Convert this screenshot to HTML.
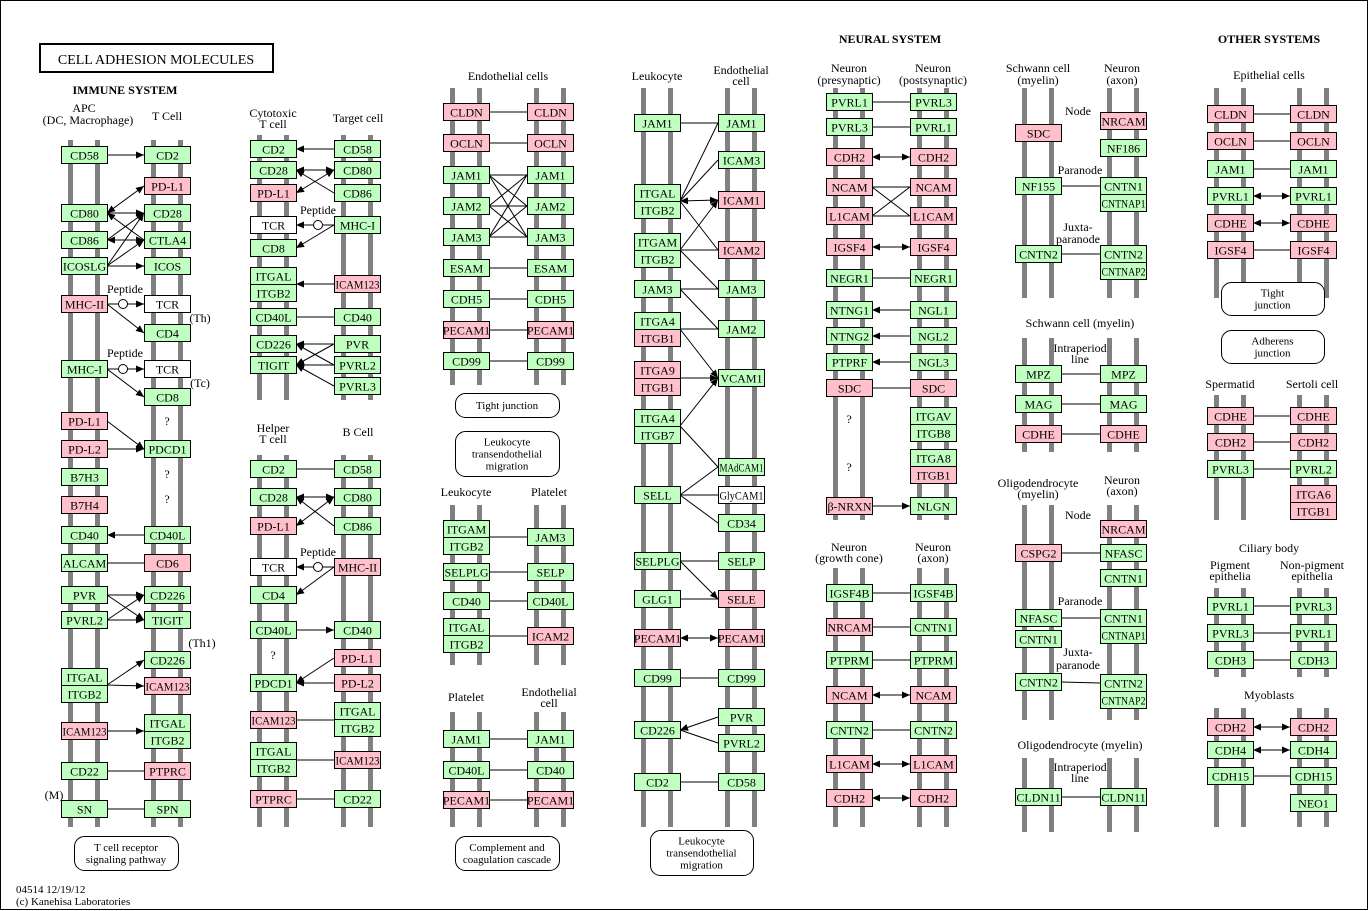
<!DOCTYPE html>
<html><head><meta charset="utf-8"><style>
html,body{margin:0;padding:0;background:#fff}
svg{display:block}
text{font-family:"Liberation Serif",serif;font-size:12px;fill:#000}
</style></head><body>
<svg id="s" width="1369" height="911" xmlns="http://www.w3.org/2000/svg">
<defs>
<marker id="ar" markerWidth="10" markerHeight="10" refX="8" refY="3.5" orient="auto" markerUnits="userSpaceOnUse"><path d="M0,0 L8,3.5 L0,7 z" fill="#000"/></marker>
<marker id="al" markerWidth="10" markerHeight="10" refX="0" refY="3.5" orient="auto" markerUnits="userSpaceOnUse"><path d="M8,0 L0,3.5 L8,7 z" fill="#000"/></marker>
</defs>
<rect x="0.5" y="0.5" width="1367" height="909" fill="#fff" stroke="#000"/>
<g id="bars"></g><g id="lines"></g><g id="boxes"></g><g id="txt"></g>
<rect x="40" y="44" width="233" height="28" fill="none" stroke="#000" stroke-width="2"/>
<text x="156" y="64" text-anchor="middle" style="font-size:14px">CELL ADHESION  MOLECULES</text>
<text x="125" y="94" text-anchor="middle" style="font-weight:bold">IMMUNE SYSTEM</text>
<text x="890" y="43" text-anchor="middle" style="font-weight:bold">NEURAL SYSTEM</text>
<text x="1269" y="43" text-anchor="middle" style="font-weight:bold">OTHER SYSTEMS</text>
<text x="16" y="893" style="font-size:11px">04514 12/19/12</text>
<text x="16" y="905" style="font-size:11px">(c) Kanehisa Laboratories</text>
</svg>
<script>
var NS="http://www.w3.org/2000/svg";
function el(g,t,a,tx){var e=document.createElementNS(NS,t);for(var k in a)e.setAttribute(k,a[k]);if(tx!=null)e.textContent=tx;document.getElementById(g).appendChild(e);return e;}
var C={g:"#bfffbf",p:"#ffc0cb",w:"#ffffff"};
function bars(x,y1,y2){el("bars","rect",{x:x+7,y:y1,width:5,height:y2-y1,fill:"#808080"});el("bars","rect",{x:x+34,y:y1,width:5,height:y2-y1,fill:"#808080"});}
function B(x,y,t,c){el("boxes","rect",{x:x+0.5,y:y-8.5,width:46,height:17,fill:C[c||"g"],stroke:"#000"});
 var a={x:x+23.5,y:y+4.5,"text-anchor":"middle",style:"font-size:12px"};
 if(t.length>6){a.textLength=44;a.lengthAdjust="spacingAndGlyphs";a.x=x+1.5;a["text-anchor"]="start";}
 el("boxes","text",a,t);}
function T(x,y,t,a,st){el("txt","text",{x:x,y:y,"text-anchor":a||"middle",style:st||""},t);}
function L(x1,y1,x2,y2,m){var a={x1:x1,y1:y1,x2:x2,y2:y2,stroke:"#000","stroke-width":1};
 if(m=="e"||m=="b")a["marker-end"]="url(#ar)";if(m=="s"||m=="b")a["marker-start"]="url(#al)";el("lines","line",a);}
function R(x,y,w,h,lines){el("boxes","rect",{x:x+0.5,y:y+0.5,width:w,height:h,rx:10,fill:"#fff",stroke:"#000"});
 var n=lines.length;for(var i=0;i<n;i++)T(x+w/2,y+h/2+4-(n-1)*6+i*12,lines[i],"middle","font-size:11px");}
function circ(x,y){el("boxes","circle",{cx:x,cy:y,r:4.5,fill:"#fff",stroke:"#000"});}

var a=61,b=144,ar=107;
bars(a,140,827);bars(b,140,827);
T(84,112,"APC");T(88,124,"(DC, Macrophage)");T(167,120,"T Cell");
[[155,"CD58"],[213,"CD80"],[240,"CD86"],[266,"ICOSLG"],[304,"MHC-II","p"],[369,"MHC-I"],[421,"PD-L1","p"],[449,"PD-L2","p"],[477,"B7H3"],[505,"B7H4","p"],[535,"CD40"],[563,"ALCAM"],[595,"PVR"],[620,"PVRL2"],[677,"ITGAL"],[694,"ITGB2"],[731,"ICAM123","p"],[771,"CD22"],[809,"SN"]].forEach(function(r){B(a,r[0],r[1],r[2]);});
[[155,"CD2"],[186,"PD-L1","p"],[213,"CD28"],[240,"CTLA4"],[266,"ICOS"],[304,"TCR","w"],[333,"CD4"],[369,"TCR","w"],[397,"CD8"],[449,"PDCD1"],[535,"CD40L"],[563,"CD6","p"],[595,"CD226"],[620,"TIGIT"],[660,"CD226"],[686,"ICAM123","p"],[723,"ITGAL"],[740,"ITGB2"],[771,"PTPRC","p"],[809,"SPN"]].forEach(function(r){B(b,r[0],r[1],r[2]);});
T(167,425,"?");T(167,478,"?");T(167,503,"?");
T(200,322,"(Th)");T(200,387,"(Tc)");T(202,647,"(Th1)");T(54,799,"(M)");
T(125,293,"Peptide");T(125,357,"Peptide");
L(ar,155,b,155,"e");L(ar,213,b,186,"b");L(ar,213,b,213,"e");L(ar,213,b,240,"s");L(ar,240,b,240,"b");L(ar,240,b,213,"e");
L(ar,266,b,213,"e");L(ar,266,b,240,"e");L(ar,266,b,266,"e");
L(ar,304,b,304,"e");circ(123,304);L(ar,304,b,333,"e");
L(ar,369,b,369,"e");circ(123,369);L(ar,369,b,397,"e");
L(ar,421,b,449,"e");L(ar,449,b,449,"e");L(ar,535,b,535,"s");L(ar,563,b,563);
L(ar,595,b,595,"e");L(ar,595,b,620,"e");L(ar,620,b,595,"e");L(ar,620,b,620,"e");
L(ar,685,b,660,"e");L(ar,685,b,686,"e");L(ar,731,b,731,"e");L(ar,771,b,771);L(ar,809,b,809);
R(74,836,104,34,["T cell receptor","signaling pathway"]);

var c=250,d=334,cr=296;
bars(c,135,400);bars(d,135,400);bars(c,455,827);bars(d,455,827);
T(273,117,"Cytotoxic");T(273,128,"T cell");T(358,122,"Target cell");
T(273,432,"Helper");T(273,443,"T cell");T(358,436,"B Cell");
[[149,"CD2"],[170,"CD28"],[193,"PD-L1","p"],[225,"TCR","w"],[248,"CD8"],[276,"ITGAL"],[293,"ITGB2"],[317,"CD40L"],[344,"CD226"],[365,"TIGIT"],
 [469,"CD2"],[497,"CD28"],[526,"PD-L1","p"],[567,"TCR","w"],[595,"CD4"],[630,"CD40L"],[683,"PDCD1"],[720,"ICAM123","p"],[751,"ITGAL"],[768,"ITGB2"],[799,"PTPRC","p"]].forEach(function(r){B(c,r[0],r[1],r[2]);});
[[149,"CD58"],[170,"CD80"],[193,"CD86"],[225,"MHC-I"],[284,"ICAM123","p"],[317,"CD40"],[344,"PVR"],[365,"PVRL2"],[386,"PVRL3"],
 [469,"CD58"],[497,"CD80"],[526,"CD86"],[567,"MHC-II","p"],[630,"CD40"],[658,"PD-L1","p"],[683,"PD-L2","p"],[711,"ITGAL"],[728,"ITGB2"],[760,"ICAM123","p"],[799,"CD22"]].forEach(function(r){B(d,r[0],r[1],r[2]);});
T(273,659,"?");T(318,214,"Peptide");T(318,556,"Peptide");
L(cr,149,d,149,"s");L(cr,170,d,170,"b");L(cr,170,d,193,"s");L(cr,193,d,170,"b");
L(cr,225,d,225,"s");circ(318,225);L(cr,248,d,225,"s");L(cr,284,d,284,"s");L(cr,317,d,317);
L(cr,344,d,344,"s");L(cr,344,d,365,"s");L(cr,365,d,344,"s");L(cr,365,d,365,"s");L(cr,365,d,386,"s");
L(cr,469,d,469);L(cr,497,d,497,"b");L(cr,497,d,526,"s");L(cr,526,d,497,"b");
L(cr,567,d,567,"s");circ(318,567);L(cr,595,d,567,"s");L(cr,630,d,630,"e");L(cr,683,d,658,"s");L(cr,683,d,683,"s");
L(cr,720,d,720);L(cr,760,d,760);L(cr,799,d,799);

var e=443,f=527,er=489;
bars(e,88,385);bars(f,88,385);T(508,80,"Endothelial cells");
[[112,"CLDN","p"],[143,"OCLN","p"],[175,"JAM1"],[206,"JAM2"],[237,"JAM3"],[268,"ESAM"],[299,"CDH5"],[330,"PECAM1","p"],[361,"CD99"]].forEach(function(r){B(e,r[0],r[1],r[2]);B(f,r[0],r[1],r[2]);L(er,r[0],f,r[0]);});
[175,206,237].forEach(function(y1){[175,206,237].forEach(function(y2){if(y1!=y2)L(er,y1,f,y2);});});
R(455,393,104,24,["Tight junction"]);
R(455,431,104,45,["Leukocyte","transendothelial","migration"]);
bars(e,505,615);bars(f,505,615);T(466,496,"Leukocyte");T(549,496,"Platelet");
B(e,529,"ITGAM");B(e,546,"ITGB2");B(f,537,"JAM3");L(er,537,f,537);
B(e,572,"SELPLG");B(f,572,"SELP");L(er,572,f,572);
B(e,601,"CD40");B(f,601,"CD40L");L(er,601,f,601);
bars(e,615,665);bars(f,615,665);
B(e,627,"ITGAL");B(e,644,"ITGB2");B(f,636,"ICAM2","p");L(er,636,f,636);
bars(e,712,827);bars(f,712,827);T(466,701,"Platelet");T(549,696,"Endothelial");T(549,707,"cell");
B(e,739,"JAM1");B(f,739,"JAM1");L(er,739,f,739);
B(e,770,"CD40L");B(f,770,"CD40");L(er,770,f,770);
B(e,800,"PECAM1","p");B(f,800,"PECAM1","p");L(er,800,f,800);
R(455,836,104,34,["Complement and","coagulation cascade"]);

var g=634,h=718,gr=680;
bars(g,88,827);bars(h,88,827);
T(657,80,"Leukocyte");T(741,74,"Endothelial");T(741,85,"cell");
[[123,"JAM1"],[193,"ITGAL"],[210,"ITGB2"],[242,"ITGAM"],[259,"ITGB2"],[289,"JAM3"],[321,"ITGA4"],[338,"ITGB1","p"],[370,"ITGA9","p"],[387,"ITGB1","p"],[418,"ITGA4"],[435,"ITGB7"],[495,"SELL"],[561,"SELPLG"],[599,"GLG1"],[638,"PECAM1","p"],[678,"CD99"],[730,"CD226"],[782,"CD2"]].forEach(function(r){B(g,r[0],r[1],r[2]);});
[[123,"JAM1"],[160,"ICAM3"],[200,"ICAM1","p"],[250,"ICAM2","p"],[289,"JAM3"],[329,"JAM2"],[378,"VCAM1"],[467,"MAdCAM1"],[495,"GlyCAM1","w"],[523,"CD34"],[561,"SELP"],[599,"SELE","p"],[638,"PECAM1","p"],[678,"CD99"],[717,"PVR"],[743,"PVRL2"],[782,"CD58"]].forEach(function(r){B(h,r[0],r[1],r[2]);});
L(gr,123,h,123);L(gr,201,h,123);L(gr,201,h,160);L(gr,201,h,200,"b");L(gr,201,h,250);
L(gr,250,h,200,"e");L(gr,250,h,250);L(gr,250,h,289);
L(gr,289,h,289);L(gr,289,h,329);L(gr,329,h,329);L(gr,329,h,378,"e");L(gr,378,h,378,"e");
L(gr,426,h,378,"e");L(gr,426,h,467);L(gr,495,h,467);L(gr,495,h,495);L(gr,495,h,523);
L(gr,561,h,561);L(gr,561,h,599,"e");L(gr,599,h,599);L(gr,638,h,638,"b");L(gr,678,h,678);
L(gr,730,h,717,"s");L(gr,730,h,743);L(gr,782,h,782);
R(650,830,103,45,["Leukocyte","transendothelial","migration"]);

var i=826,j=910,ir=872;
bars(i,88,520);bars(j,88,520);
T(849,72,"Neuron");T(849,84,"(presynaptic)");T(933,72,"Neuron");T(933,84,"(postsynaptic)");
[[102,"PVRL1"],[127,"PVRL3"],[157,"CDH2","p"],[187,"NCAM","p"],[216,"L1CAM","p"],[247,"IGSF4","p"],[278,"NEGR1"],[310,"NTNG1"],[336,"NTNG2"],[362,"PTPRF"],[388,"SDC","p"],[506,"β-NRXN","p"]].forEach(function(r){B(i,r[0],r[1],r[2]);});
[[102,"PVRL3"],[127,"PVRL1"],[157,"CDH2","p"],[187,"NCAM","p"],[216,"L1CAM","p"],[247,"IGSF4","p"],[278,"NEGR1"],[310,"NGL1"],[336,"NGL2"],[362,"NGL3"],[388,"SDC","p"],[416,"ITGAV"],[433,"ITGB8"],[458,"ITGA8"],[475,"ITGB1","p"],[506,"NLGN"]].forEach(function(r){B(j,r[0],r[1],r[2]);});
T(849,423,"?");T(849,471,"?");
L(ir,102,j,102);L(ir,127,j,127);L(ir,157,j,157,"b");L(ir,187,j,187);L(ir,187,j,216);L(ir,216,j,187);L(ir,216,j,216);
L(ir,247,j,247,"b");L(ir,278,j,278);L(ir,310,j,310,"s");L(ir,336,j,336,"s");L(ir,362,j,362,"s");L(ir,388,j,388);L(ir,506,j,506,"e");
bars(i,568,827);bars(j,568,827);
T(849,551,"Neuron");T(849,562,"(growth cone)");T(933,551,"Neuron");T(933,562,"(axon)");
[[593,"IGSF4B","IGSF4B"],[627,"NRCAM","CNTN1"],[660,"PTPRM","PTPRM"],[695,"NCAM","NCAM"],[730,"CNTN2","CNTN2"],[764,"L1CAM","L1CAM"],[798,"CDH2","CDH2"]].forEach(function(r){
 var pl=/NRCAM|NCAM|L1CAM|CDH2/.test(r[1])?"p":"g",pr=/NCAM|L1CAM|CDH2/.test(r[2])?"p":"g";B(i,r[0],r[1],pl);B(j,r[0],r[2],pr);
 L(ir,r[0],j,r[0],/NCAM|L1CAM|CDH2/.test(r[2])?"b":"");});

var k=1015,m=1100,kr=1061;
bars(k,88,298);bars(m,88,298);
T(1038,72,"Schwann cell");T(1038,84,"(myelin)");T(1122,72,"Neuron");T(1122,84,"(axon)");
B(k,133,"SDC","p");B(m,121,"NRCAM","p");B(m,148,"NF186");T(1078,115,"Node");
B(k,186,"NF155");B(m,186,"CNTN1");B(m,203,"CNTNAP1");L(kr,186,m,186);T(1080,174,"Paranode");
B(k,254,"CNTN2");B(m,254,"CNTN2");B(m,271,"CNTNAP2");L(kr,254,m,254);T(1078,231,"Juxta-");T(1078,243,"paranode");
T(1080,327,"Schwann cell (myelin)");bars(k,338,452);bars(m,338,452);T(1080,352,"Intraperiod");T(1080,363,"line");
[[374,"MPZ"],[404,"MAG"],[434,"CDHE","p"]].forEach(function(r){B(k,r[0],r[1],r[2]);B(m,r[0],r[1],r[2]);L(kr,r[0],m,r[0]);});
bars(k,505,720);bars(m,505,720);
T(1038,487,"Oligodendrocyte");T(1038,498,"(myelin)");T(1122,484,"Neuron");T(1122,495,"(axon)");
B(m,529,"NRCAM","p");B(m,553,"NFASC");B(m,578,"CNTN1");B(k,553,"CSPG2","p");L(kr,553,m,553);T(1078,519,"Node");
B(k,618,"NFASC");B(k,639,"CNTN1");B(m,618,"CNTN1");B(m,635,"CNTNAP1");L(kr,618,m,618);T(1080,605,"Paranode");
B(k,682,"CNTN2");B(m,683,"CNTN2");B(m,700,"CNTNAP2");L(kr,682,m,683);T(1078,656,"Juxta-");T(1078,669,"paranode");
T(1080,749,"Oligodendrocyte (myelin)");bars(k,758,832);bars(m,758,832);T(1080,771,"Intraperiod");T(1080,782,"line");
B(k,797,"CLDN11");B(m,797,"CLDN11");L(kr,797,m,797);

var n=1207,o=1290,nr=1253;
bars(n,88,298);bars(o,88,298);T(1269,79,"Epithelial cells");
[[114,"CLDN","p",""],[141,"OCLN","p",""],[169,"JAM1","g",""],[196,"PVRL1","g","b"],[223,"CDHE","p","b"],[250,"IGSF4","p",""]].forEach(function(r){B(n,r[0],r[1],r[2]);B(o,r[0],r[1],r[2]);L(nr,r[0],o,r[0],r[3]);});
R(1221,282,103,33,["Tight","junction"]);R(1221,330,103,33,["Adherens","junction"]);
bars(n,395,520);bars(o,395,520);T(1230,388,"Spermatid");T(1312,388,"Sertoli cell");
B(n,416,"CDHE","p");B(o,416,"CDHE","p");L(nr,416,o,416);
B(n,442,"CDH2","p");B(o,442,"CDH2","p");L(nr,442,o,442);
B(n,469,"PVRL3");B(o,469,"PVRL2");L(nr,469,o,469);
B(o,494,"ITGA6","p");B(o,511,"ITGB1","p");
T(1269,552,"Ciliary body");T(1230,569,"Pigment");T(1230,580,"epithelia");T(1312,569,"Non-pigment");T(1312,580,"epithelia");
bars(n,588,677);bars(o,588,677);
B(n,606,"PVRL1");B(o,606,"PVRL3");L(nr,606,o,606);
B(n,633,"PVRL3");B(o,633,"PVRL1");L(nr,633,o,633);
B(n,660,"CDH3");B(o,660,"CDH3");L(nr,660,o,660);
T(1269,699,"Myoblasts");bars(n,708,827);bars(o,708,827);
B(n,727,"CDH2","p");B(o,727,"CDH2","p");L(nr,727,o,727,"b");
B(n,750,"CDH4");B(o,750,"CDH4");L(nr,750,o,750,"b");
B(n,776,"CDH15");B(o,776,"CDH15");L(nr,776,o,776);
B(o,803,"NEO1");
</script>
</body></html>
